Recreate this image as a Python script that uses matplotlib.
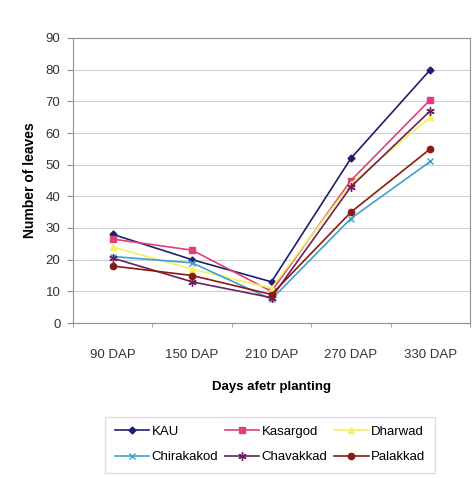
import matplotlib
matplotlib.use("Agg")
import matplotlib.pyplot as plt

plt.rcParams['font.family'] = ['Liberation Sans', 'DejaVu Sans']

categories = ["90 DAP", "150 DAP", "210 DAP", "270 DAP", "330 DAP"]
kau = [28, 20, 13, 52, 80]
kasargod = [26.5, 23, 10, 45, 70.5]
dharwad = [24, 17, 11, 44, 65]
chirakakod = [21, 19, 7.5, 33, 51]
chavakkad = [20.5, 13, 8, 43, 67]
palakkad = [18, 15, 9, 35, 55]

series = [
    ("KAU", kau, "#1f1f6e", "D", 3.5),
    ("Kasargod", kasargod, "#e0407a", "s", 4),
    ("Dharwad", dharwad, "#f5f060", "^", 4),
    ("Chirakakod", chirakakod, "#3fa0d0", "x", 5),
    ("Chavakkad", chavakkad, "#6a2060", (6, 2, 0), 6),
    ("Palakkad", palakkad, "#8b1a10", "o", 4.5),
]

fig = plt.figure(figsize=(4.72, 4.78), dpi=100)
ax = fig.add_axes([73/472, 1 - 323/478, (470-73)/472, (323-38)/478])

x = list(range(len(categories)))
handles = {}
for name, vals, col, mk, ms in series:
    h, = ax.plot(x, vals, color=col, marker=mk, markersize=ms, linewidth=1.2, label=name)
    handles[name] = h

ax.set_xlim(-0.5, 4.5)
ax.set_ylim(0, 90)
ax.set_yticks(range(0, 91, 10))
ax.set_xticks(x)
ax.set_xticklabels(categories)
ax.set_xticks([i + 0.5 for i in range(-1, 5)], minor=True)
ax.tick_params(axis="x", which="major", length=0, pad=19)
ax.tick_params(axis="x", which="minor", length=3, color="#909090")
ax.tick_params(axis="y", length=4, color="#909090", pad=5)
ax.tick_params(labelsize=9.5, labelcolor="#333333")
ax.grid(axis="y", color="#d0d0d0", linewidth=0.8)
ax.set_axisbelow(True)
for s in ax.spines.values():
    s.set_color("#909090")
ax.set_ylabel("Number of leaves", fontsize=10, fontweight="bold", labelpad=6)
ax.set_xlabel("Days afetr planting", fontsize=9.5, fontweight="bold", labelpad=14)

order = ["KAU", "Chirakakod", "Kasargod", "Chavakkad", "Dharwad", "Palakkad"]
leg = fig.legend([handles[n] for n in order], order, loc="upper center",
                 bbox_to_anchor=(270/472, 1 - 410/478),
                 ncol=3, fontsize=9.5, frameon=True, fancybox=False, edgecolor="#d8d8d8",
                 handlelength=2.6, columnspacing=0.5, handletextpad=0.2, borderpad=0.7,
                 labelspacing=1.0)
fig.savefig("out.png", dpi=100, facecolor="white")
